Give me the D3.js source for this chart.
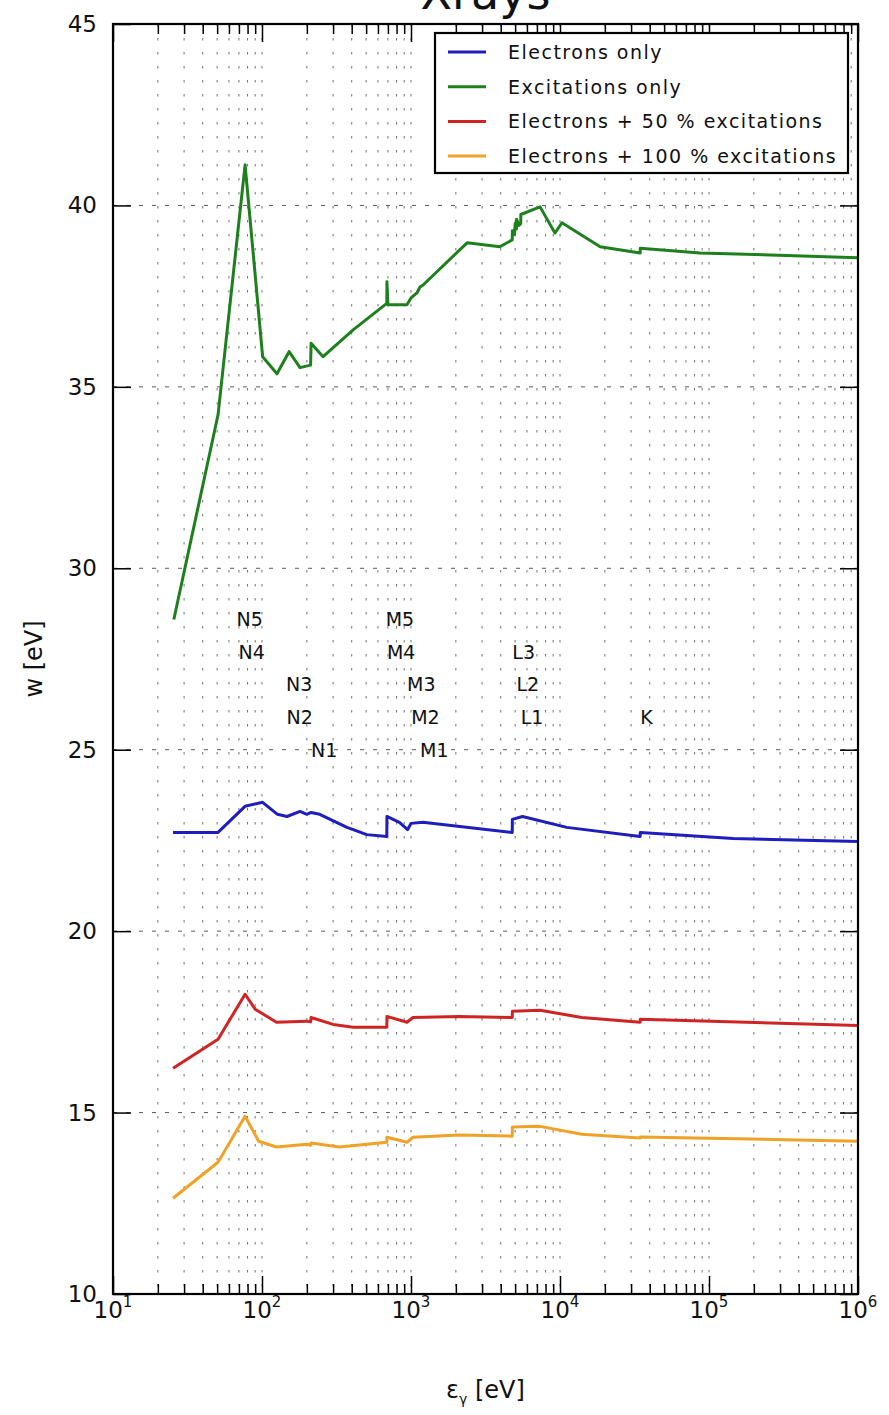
<!DOCTYPE html>
<html><head><meta charset="utf-8">
<script src="https://cdn.jsdelivr.net/npm/d3@7"></script>
<style>body{margin:0;background:#fff} text{font-family:"DejaVu Sans",sans-serif;fill:#111}</style>
</head><body><svg id="c" width="889" height="1415"></svg>
<script>
// ---- data (energy in eV, w in eV) ----
const electronsOnlyE = [25.3, 50.7, 76.9, 101, 127, 147, 180, 200, 213.5, 244, 372, 505, 688, 689.5, 835, 950, 1000, 1200, 4780, 4790, 5600, 11100, 34500, 34600, 145000, 1000000];
const electronsOnlyW = [22.72, 22.72, 23.44, 23.55, 23.22, 23.16, 23.3, 23.22, 23.27, 23.22, 22.86, 22.66, 22.61, 23.16, 23.0, 22.8, 22.97, 23.0, 22.72, 23.08, 23.16, 22.86, 22.61, 22.72, 22.55, 22.47];

const excitationsOnlyE = [25.6, 50.7, 77, 101, 126, 152, 180, 212, 213.5, 257, 409, 688, 689.5, 700, 940, 1000, 1100, 1150, 1200, 2380, 3950, 4780, 4790, 4950, 5000, 5100, 5110, 5300, 5450, 5460, 7350, 9250, 10300, 18600, 34500, 34600, 87000, 1000000];
const excitationsOnlyW = [28.59, 34.23, 41.12, 35.83, 35.36, 35.97, 35.53, 35.6, 36.2, 35.83, 36.57, 37.3, 37.9, 37.26, 37.26, 37.45, 37.6, 37.75, 37.8, 38.97, 38.86, 39.05, 39.3, 39.2, 39.5, 39.35, 39.62, 39.45, 39.5, 39.75, 39.96, 39.24, 39.52, 38.86, 38.69, 38.82, 38.69, 38.56];

const half50E = [25.3, 50.7, 77, 90, 125, 200, 212, 213.5, 300, 410, 688, 689.5, 940, 1030, 2100, 4780, 4790, 7350, 14000, 34500, 34600, 1000000];
const half50W = [16.22, 17.02, 18.26, 17.85, 17.49, 17.52, 17.5, 17.62, 17.43, 17.35, 17.35, 17.65, 17.49, 17.62, 17.65, 17.62, 17.79, 17.82, 17.62, 17.49, 17.57, 17.4];

const full100E = [25.3, 50.7, 77, 95, 125, 200, 212, 213.5, 330, 688, 689.5, 940, 1030, 2100, 4780, 4790, 7350, 14000, 34500, 34600, 1000000];
const full100W = [12.64, 13.63, 14.9, 14.21, 14.05, 14.13, 14.1, 14.16, 14.05, 14.18, 14.32, 14.18, 14.32, 14.38, 14.35, 14.6, 14.62, 14.4, 14.3, 14.33, 14.21];

const seriesNames = ["Electrons only", "Excitations only", "Electrons + 50 % excitations", "Electrons + 100 % excitations"];
const seriesColors = ["#1e1ebe", "#1d801d", "#d02424", "#f0a226"];

// absorption edge labels (xenon)
const edgeNames  = ["N5", "N4", "N3", "N2", "N1", "M5", "M4", "M3", "M2", "M1", "L3", "L2", "L1", "K"];
const edgeE      = [67.5, 69.5, 145, 146, 213, 676, 689, 940, 1002, 1149, 4786, 5107, 5453, 34561];
const edgeLabelW = [28.6, 27.7, 26.8, 25.9, 25.0, 28.6, 27.7, 26.8, 25.9, 25.0, 27.7, 26.8, 25.9, 25.9];

const yTicks = [10, 15, 20, 25, 30, 35, 40, 45];
const xMajor = [1e1, 1e2, 1e3, 1e4, 1e5, 1e6];
const xExponents = ["1", "2", "3", "4", "5", "6"];

// ---- layout ----
const L = 113, R = 858, T = 24, B = 1294;
const svg = d3.select("#c");
const x = d3.scaleLog().domain([10, 1e6]).range([L, R]);
const y = d3.scaleLinear().domain([10, 45]).range([B, T]);

const allX = x.ticks();
const xMinor = allX.filter(v => !xMajor.some(m => Math.abs(m - v) / m < 1e-9));

// grid
const grid = svg.append("g");
grid.selectAll("line.vg").data(allX).join("line")
  .attr("x1", d => x(d)).attr("x2", d => x(d)).attr("y1", T).attr("y2", B)
  .attr("stroke", "#444").attr("stroke-width", 1).attr("stroke-dasharray", "2.5,11.5").attr("opacity", 0.75);
grid.selectAll("line.hg").data(yTicks.slice(1, -1)).join("line")
  .attr("x1", L).attr("x2", R).attr("y1", d => y(d)).attr("y2", d => y(d))
  .attr("stroke", "#333").attr("stroke-width", 1).attr("stroke-dasharray", "4,9").attr("opacity", 0.8);

// ticks (inward, all four sides)
function axisLines(g) { g.select(".domain").remove(); g.selectAll("text").remove(); g.selectAll("line").attr("stroke", "#000").attr("stroke-width", 1.5); }
svg.append("g").attr("transform", `translate(0,${B})`).call(d3.axisBottom(x).tickValues(xMajor).tickSize(-18).tickFormat("")).call(axisLines);
svg.append("g").attr("transform", `translate(0,${B})`).call(d3.axisBottom(x).tickValues(xMinor).tickSize(-10).tickFormat("")).call(axisLines);
svg.append("g").attr("transform", `translate(0,${T})`).call(d3.axisTop(x).tickValues(xMajor).tickSize(-18).tickFormat("")).call(axisLines);
svg.append("g").attr("transform", `translate(0,${T})`).call(d3.axisTop(x).tickValues(xMinor).tickSize(-10).tickFormat("")).call(axisLines);
svg.append("g").attr("transform", `translate(${L},0)`).call(d3.axisLeft(y).tickValues(yTicks).tickSize(-18).tickFormat("")).call(axisLines);
svg.append("g").attr("transform", `translate(${R},0)`).call(d3.axisRight(y).tickValues(yTicks).tickSize(-18).tickFormat("")).call(axisLines);

// series
const series = [
  {E: electronsOnlyE, W: electronsOnlyW},
  {E: excitationsOnlyE, W: excitationsOnlyW},
  {E: half50E, W: half50W},
  {E: full100E, W: full100W}
];
const line = d3.line().x(d => x(d[0])).y(d => y(d[1]));
series.forEach((s, i) => {
  svg.append("path").datum(s.E.map((e, k) => [e, s.W[k]]))
    .attr("d", line).attr("fill", "none").attr("stroke", seriesColors[i])
    .attr("stroke-width", 3).attr("stroke-linejoin", "round");
});

// frame
svg.append("rect").attr("x", L).attr("y", T).attr("width", R - L).attr("height", B - T)
  .attr("fill", "none").attr("stroke", "#000").attr("stroke-width", 2.2);

// y tick labels
svg.selectAll("text.yl").data(yTicks).join("text")
  .attr("x", L - 16).attr("y", d => y(d)).attr("text-anchor", "end").attr("dominant-baseline", "central")
  .attr("font-size", 23).text(d => d);

// x tick labels
xMajor.forEach((v, i) => {
  const t = svg.append("text").attr("x", x(v)).attr("y", 1318).attr("text-anchor", "middle").attr("font-size", 23);
  t.append("tspan").text("10");
  t.append("tspan").attr("dy", -11).attr("font-size", 15).text(xExponents[i]);
});

// axis labels
const xl = svg.append("text").attr("x", (L + R) / 2).attr("y", 1398).attr("text-anchor", "middle").attr("font-size", 24);
xl.append("tspan").text("ε");
xl.append("tspan").attr("dy", 6).attr("font-size", 14).text("γ");
xl.append("tspan").attr("dy", -6).text(" [eV]");
svg.append("text").attr("transform", `translate(42,${(T + B) / 2}) rotate(-90)`)
  .attr("text-anchor", "middle").attr("font-size", 24).text("w [eV]");

// title (clipped at top, as in the reference)
svg.append("text").attr("x", (L + R) / 2).attr("y", 9).attr("text-anchor", "middle").attr("font-size", 46).text("Xrays");

// edge labels
svg.selectAll("text.edge").data(edgeNames).join("text")
  .attr("x", (d, i) => x(edgeE[i])).attr("y", (d, i) => y(edgeLabelW[i]))
  .attr("dominant-baseline", "central").attr("font-size", 19).text(d => d);

// legend
const lg = svg.append("g");
lg.append("rect").attr("x", 435).attr("y", 33).attr("width", 413).attr("height", 140)
  .attr("fill", "#fff").attr("stroke", "#000").attr("stroke-width", 2.2);
seriesNames.forEach((n, i) => {
  const yy = 52 + i * 34.7;
  lg.append("line").attr("x1", 448).attr("x2", 486).attr("y1", yy).attr("y2", yy)
    .attr("stroke", seriesColors[i]).attr("stroke-width", 3);
  lg.append("text").attr("x", 508).attr("y", yy).attr("dominant-baseline", "central")
    .attr("font-size", 19).attr("letter-spacing", 1.5).text(n);
});
</script></body></html>
